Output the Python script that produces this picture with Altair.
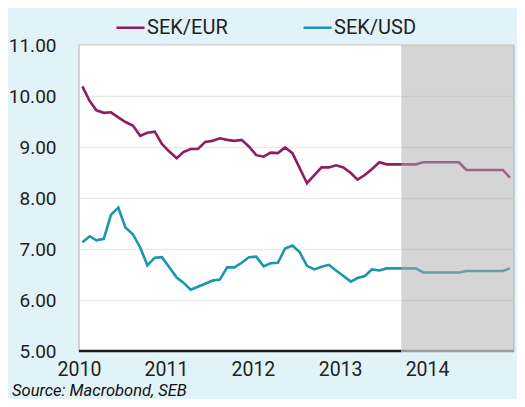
import altair as alt
import pandas as pd

# ---- data ----
month_starts = pd.date_range("2010-01-01", periods=60, freq="MS")
dates = [d + pd.Timedelta(days=14) for d in month_starts]

sek_eur = [10.19, 9.90, 9.72, 9.67, 9.68, 9.58, 9.49, 9.42, 9.22, 9.28,
           9.30, 9.06, 8.91, 8.78, 8.90, 8.96, 8.96, 9.10, 9.12, 9.17,
           9.14, 9.12, 9.14, 9.01, 8.84, 8.81, 8.89, 8.88, 8.99, 8.88,
           8.59, 8.29, 8.45, 8.60, 8.60, 8.64, 8.60, 8.49, 8.36, 8.45,
           8.57, 8.70, 8.66, 8.66, 8.66, 8.66, 8.66, 8.70, 8.70, 8.70,
           8.70, 8.70, 8.70, 8.55, 8.55, 8.55, 8.55, 8.55, 8.55, 8.40]

sek_usd = [7.13, 7.25, 7.17, 7.20, 7.67, 7.81, 7.42, 7.29, 7.03, 6.68,
           6.83, 6.84, 6.64, 6.44, 6.34, 6.20, 6.26, 6.32, 6.38, 6.40,
           6.64, 6.64, 6.73, 6.84, 6.85, 6.66, 6.72, 6.73, 7.01, 7.07,
           6.94, 6.67, 6.60, 6.65, 6.69, 6.58, 6.47, 6.36, 6.43, 6.47,
           6.60, 6.58, 6.62, 6.62, 6.62, 6.62, 6.62, 6.54, 6.54, 6.54,
           6.54, 6.54, 6.54, 6.57, 6.57, 6.57, 6.57, 6.57, 6.57, 6.62]

series_names = ["SEK/EUR", "SEK/USD"]
series_colors = ["#8f1d5f", "#1b96aa"]
y_ticks = [5, 6, 7, 8, 9, 10, 11]
x_years = [2010, 2011, 2012, 2013, 2014]
x_start = "2010-01-01"
forecast_start = "2013-09-15"
x_end = "2015-01-01"
source_text = "Source: Macrobond, SEB"

FONT = "Roboto, 'Liberation Sans', sans-serif"

df = pd.DataFrame({
    "date": dates * 2,
    "value": sek_eur + sek_usd,
    "series": [series_names[0]] * 60 + [series_names[1]] * 60,
})

x_scale = alt.Scale(domain=[alt.DateTime(year=2010, month=1, date=1),
                            alt.DateTime(year=2015, month=1, date=1)])
y_scale = alt.Scale(domain=[5, 11], nice=False, zero=False)

lines = alt.Chart(df).mark_line(strokeWidth=2.6, clip=True).encode(
    x=alt.X("date:T", scale=x_scale,
            axis=alt.Axis(values=[alt.DateTime(year=y, month=1, date=1) for y in x_years],
                          format="%Y", title=None, ticks=False, domain=False, grid=False,
                          labelFont=FONT, labelFontSize=19.5, labelColor="#222",
                          labelPadding=9, labelFlush=False, labelOverlap=False)),
    y=alt.Y("value:Q", scale=y_scale,
            axis=alt.Axis(values=y_ticks, format=".2f", title=None, ticks=False,
                          domain=False, grid=True, gridColor="#e9e9e9", gridWidth=1.5,
                          labelFont=FONT, labelFontSize=19, labelColor="#222",
                          labelPadding=23, labelOverlap=False)),
    color=alt.Color("series:N", scale=alt.Scale(domain=series_names, range=series_colors),
                    legend=alt.Legend(title=None, orient="none", legendX=36, legendY=-33,
                                      direction="horizontal", symbolType="stroke",
                                      symbolSize=784, symbolStrokeWidth=2.5,
                                      labelFont=FONT, labelFontSize=20, labelColor="#222",
                                      labelOffset=1, columnPadding=70)),
)

shade_df = pd.DataFrame({"start": [forecast_start], "end": [x_end], "lo": [5], "hi": [11]})
shade = alt.Chart(shade_df).mark_rect(fill="#ababab", opacity=0.5).encode(
    x="start:T", x2="end:T", y="lo:Q", y2="hi:Q")

base_hist_df = pd.DataFrame({"start": [x_start], "end": [forecast_start], "y": [5]})
base_hist = alt.Chart(base_hist_df).mark_rule(color="#1a1a1a", strokeWidth=2.5).encode(
    x="start:T", x2="end:T", y="y:Q")

base_fc_df = pd.DataFrame({"start": [forecast_start], "end": [x_end], "y": [5]})
base_fc = alt.Chart(base_fc_df).mark_rule(color="#9a9a9a", strokeWidth=2.5).encode(
    x="start:T", x2="end:T", y="y:Q")

src = alt.Chart(pd.DataFrame({"t": [source_text]})).mark_text(
    align="left", baseline="alphabetic", fontStyle="italic", font=FONT,
    fontSize=16.5, color="#111").encode(
    text="t:N", x=alt.value(-67), y=alt.value(351))

chart = alt.layer(lines, shade, base_hist, base_fc, src).properties(
    width=435, height=306,
    background="#e1f3f8",
    autosize=alt.AutoSizeParams(type="none"),
    padding={"left": 71, "top": 37, "right": 3, "bottom": 48},
).configure_view(fill="white", stroke="#c6c6c6", strokeWidth=1.5)

chart.save("out.html", embed_options={"renderer": "svg", "actions": False})
